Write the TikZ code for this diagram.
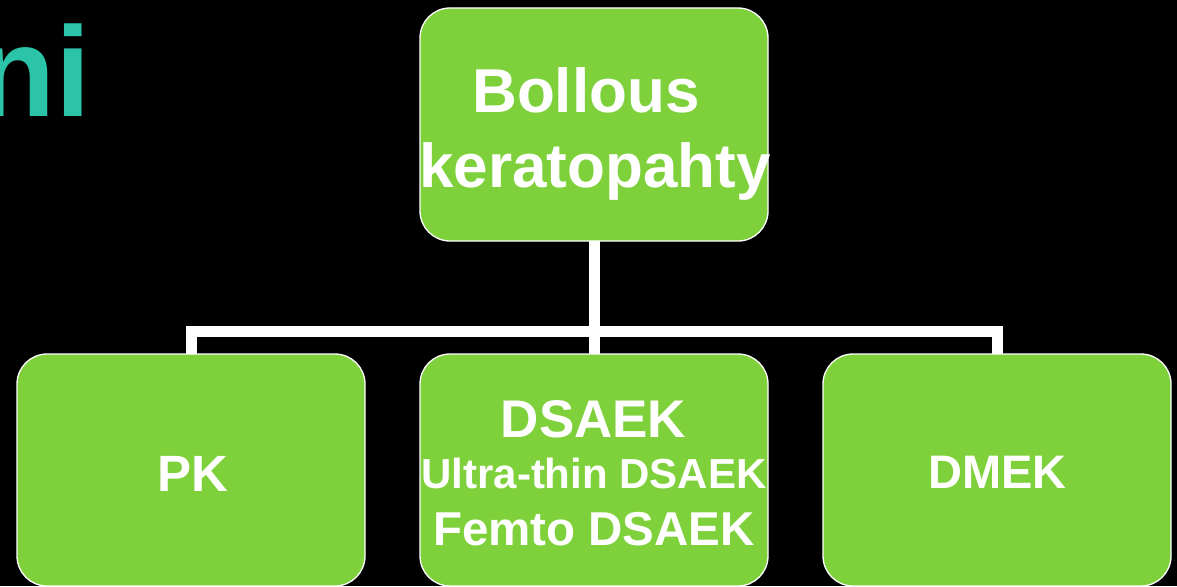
\documentclass[tikz,border=0pt]{standalone}
\usepackage{fontspec}
\setmainfont{Liberation Sans}
\definecolor{boxgreen}{RGB}{127,209,60}
\definecolor{titleteal}{RGB}{44,196,168}
\begin{document}
\begin{tikzpicture}[x=1pt,y=-1pt,
  box/.style={draw=white,line width=1.3pt,fill=boxgreen,rounded corners=30pt,
    minimum width=348pt,minimum height=232pt,inner sep=0pt,outer sep=0pt},
  conn/.style={draw=white,line width=11pt,line join=miter},
  lbl/.style={text=white,font=\bfseries,anchor=base,inner sep=0pt}]
\fill[black] (0,0) rectangle (1177,586);
\useasboundingbox (0,0) rectangle (1177,586);
\node[text=titleteal,font=\bfseries\fontsize{128}{140}\selectfont,anchor=base east,inner sep=0pt] (title) at (91,116) {ni};
\node[box,minimum height=233pt] (top) at (594,124.5) {};
\node[box] (pk) at (191,470) {};
\node[box] (dsaek) at (594,470) {};
\node[box] (dmek) at (997,470) {};
\coordinate (hb) at (594,331);
\draw[conn] (top.south) -- (top.south |- hb);
\draw[conn] (pk.north) |- (dmek.north |- hb) -- (dmek.north);
\draw[conn] (dsaek.north) -- (dsaek.north |- hb);
\node[lbl,font=\bfseries\fontsize{62}{75}\selectfont] (t1) at (586,112) {Bollous};
\node[lbl,font=\bfseries\fontsize{62}{75}\selectfont] (t2) at (595,187) {keratopahty};
\node[lbl,font=\bfseries\fontsize{51}{60}\selectfont] (t3) at (192.5,491) {PK};
\node[lbl,font=\bfseries\fontsize{53}{60}\selectfont] (t4) at (593.5,437) {DSAEK};
\node[lbl,font=\bfseries\fontsize{42}{50}\selectfont] (t5) at (594,488) {Ultra-thin DSAEK};
\node[lbl,font=\bfseries\fontsize{47.5}{55}\selectfont] (t6) at (594,545) {Femto DSAEK};
\node[lbl,font=\bfseries\fontsize{47}{55}\selectfont] (t7) at (997.5,488) {DMEK};
\end{tikzpicture}
\end{document}
